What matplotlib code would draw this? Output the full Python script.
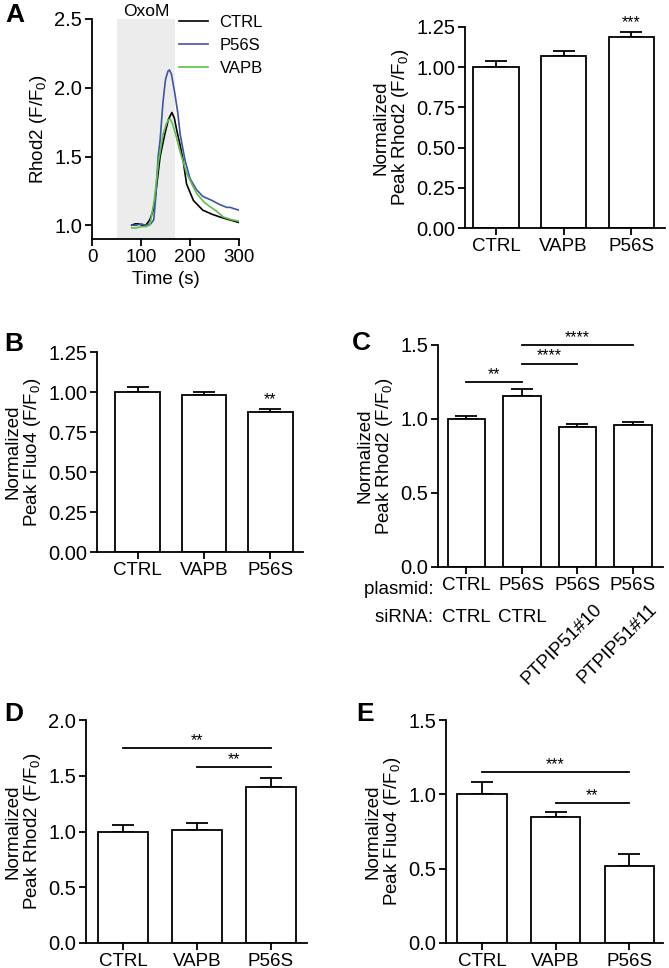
import matplotlib
matplotlib.use("Agg")
import matplotlib.pyplot as plt
import matplotlib.transforms as mtransforms

plt.rcParams['font.family'] = ['Liberation Sans', 'DejaVu Sans']
plt.rcParams['mathtext.default'] = 'regular'

W, H = 669, 968

# ---- panel A, time course (Rhod2) ----
t_ctrl = [81, 88, 95, 103, 110, 118, 125, 130, 139, 149, 156, 163, 168, 173, 180, 186, 193, 207, 226, 245, 261, 280, 300]
y_ctrl = [1.0, 1.01, 1.01, 1.0, 1.0, 1.04, 1.11, 1.23, 1.50, 1.67, 1.77, 1.82, 1.78, 1.69, 1.58, 1.47, 1.30, 1.18, 1.11, 1.08, 1.06, 1.04, 1.02]
t_p56s = [81, 90, 100, 110, 120, 126, 130, 135, 139, 145, 150, 155, 158, 162, 169, 175, 180, 190, 200, 213, 226, 245, 261, 275, 282, 290, 300]
y_p56s = [1.0, 1.0, 1.01, 1.0, 1.01, 1.04, 1.20, 1.50, 1.62, 1.90, 2.06, 2.12, 2.13, 2.10, 1.96, 1.82, 1.66, 1.47, 1.34, 1.26, 1.21, 1.18, 1.15, 1.13, 1.13, 1.12, 1.11]
t_vapb = [81, 90, 100, 110, 118, 127, 136, 145, 152, 157, 160, 164, 170, 181, 193, 205, 214, 228, 241, 255, 268, 285, 300]
y_vapb = [0.98, 0.98, 0.99, 0.99, 1.0, 1.18, 1.47, 1.66, 1.74, 1.77, 1.77, 1.74, 1.67, 1.52, 1.38, 1.29, 1.23, 1.17, 1.135, 1.10, 1.06, 1.04, 1.03]
oxom_start, oxom_end = 50, 170

groups3 = ['CTRL', 'VAPB', 'P56S']

# panel A bars
a_mean = [1.00, 1.07, 1.19]
a_err = [0.04, 0.03, 0.03]
# panel B
b_mean = [1.00, 0.98, 0.875]
b_err = [0.03, 0.02, 0.02]
# panel C
c_plasmid = ['CTRL', 'P56S', 'P56S', 'P56S']
c_sirna = ['CTRL', 'CTRL', 'PTPIP51#10', 'PTPIP51#11']
c_mean = [1.00, 1.155, 0.945, 0.96]
c_err = [0.02, 0.045, 0.02, 0.02]
# panel D
d_mean = [1.00, 1.015, 1.40]
d_err = [0.06, 0.06, 0.08]
# panel E
e_mean = [1.00, 0.845, 0.515]
e_err = [0.085, 0.035, 0.085]

LW = 1.3
FS = 13.5
TFS = 14.5


def px_axes(fig, left, top, right, bottom):
    return fig.add_axes([left / W, 1 - bottom / H, (right - left) / W, (bottom - top) / H])


def style(ax):
    for s in ['top', 'right']:
        ax.spines[s].set_visible(False)
    for s in ['left', 'bottom']:
        ax.spines[s].set_linewidth(LW)
    ax.tick_params(width=LW, length=5, labelsize=FS, direction='out', pad=2)
    ax.tick_params(axis='y', labelsize=TFS)


def bars(ax, mean, err, labels, xlim, ylim, yticks, fmt):
    x = list(range(len(mean)))
    ax.bar(x, mean, width=0.67, color='white', edgecolor='black', linewidth=LW, zorder=2)
    ax.errorbar(x, mean, yerr=[[0] * len(err), err], fmt='none', ecolor='black',
                elinewidth=LW, capsize=8, capthick=LW, zorder=1)
    ax.set_xlim(*xlim)
    ax.set_ylim(*ylim)
    ax.set_yticks(yticks)
    ax.set_yticklabels([fmt.format(v) for v in yticks])
    ax.set_xticks(x)
    ax.set_xticklabels(labels)
    style(ax)


def sig(ax, x1, x2, y, txt):
    ax.plot([x1, x2], [y, y], color='black', lw=LW, clip_on=False)
    ax.text((x1 + x2) / 2, y, txt, ha='center', va='bottom', fontsize=11.5, clip_on=False)


fig = plt.figure(figsize=(W / 100, H / 100), dpi=100)

# A - trace
ax = px_axes(fig, 92, 19, 239, 239)
ax.axvspan(oxom_start, oxom_end, color='#ececec', lw=0, zorder=0)
ax.plot(t_ctrl, y_ctrl, color='black', lw=1.2, label='CTRL')
ax.plot(t_p56s, y_p56s, color='#3f55a5', lw=1.2, label='P56S')
ax.plot(t_vapb, y_vapb, color='#5cc04a', lw=1.2, label='VAPB')
ax.set_xlim(0, 300)
ax.set_ylim(0.9, 2.5)
ax.set_xticks([0, 100, 200, 300])
ax.set_yticks([1.0, 1.5, 2.0, 2.5])
ax.set_yticklabels(['1.0', '1.5', '2.0', '2.5'])
ax.set_xlabel('Time (s)', fontsize=FS, labelpad=4)
ax.set_ylabel('Rhod2 (F/F$_0$)', fontsize=FS, labelpad=4)
ax.text((oxom_start + oxom_end) / 2, 2.5, 'OxoM', ha='center', va='bottom', fontsize=12.5)
leg = ax.legend(loc='upper left', bbox_to_anchor=(0.595, 1.02), frameon=False, fontsize=12,
                handlelength=1.7, handletextpad=0.7, labelspacing=0.5, borderaxespad=0,
                borderpad=0)
style(ax)
fig.text(5 / W, 1 - 22 / H, 'A', fontsize=19, fontweight='bold')

# A - bars
ax = px_axes(fig, 465, 27, 665, 228)
bars(ax, a_mean, a_err, groups3, (-0.46, 2.5), (0, 1.25), [0, 0.25, 0.5, 0.75, 1.0, 1.25], '{:.2f}')
ax.set_ylabel('Normalized\nPeak Rhod2 (F/F$_0$)', fontsize=FS, labelpad=4, linespacing=1.0)
ax.text(2, a_mean[2] + a_err[2] + 0.01, '***', ha='center', va='bottom', fontsize=11.5)

# B
ax = px_axes(fig, 97, 352, 303, 552)
bars(ax, b_mean, b_err, groups3, (-0.61, 2.49), (0, 1.25), [0, 0.25, 0.5, 0.75, 1.0, 1.25], '{:.2f}')
ax.set_ylabel('Normalized\nPeak Fluo4 (F/F$_0$)', fontsize=FS, labelpad=4, linespacing=1.0)
ax.text(2, b_mean[2] + b_err[2] + 0.01, '**', ha='center', va='bottom', fontsize=11.5)
fig.text(4 / W, 1 - 351 / H, 'B', fontsize=19, fontweight='bold')

# C
ax = px_axes(fig, 438, 345, 663, 567)
bars(ax, c_mean, c_err, c_plasmid, (-0.51, 3.54), (0, 1.5), [0, 0.5, 1.0, 1.5], '{:.1f}')
ax.set_ylabel('Normalized\nPeak Rhod2 (F/F$_0$)', fontsize=FS, labelpad=4, linespacing=1.0)
sig(ax, 0, 1, 1.25, '**')
sig(ax, 1, 2, 1.375, '****')
sig(ax, 1, 3, 1.5, '****')
tr = mtransforms.blended_transform_factory(ax.transData, ax.transAxes)
ax.text(-0.5, -0.1, 'plasmid: ', transform=tr, ha='right', va='center', fontsize=FS)
ax.text(-0.5, -0.228, 'siRNA: ', transform=tr, ha='right', va='center', fontsize=FS)
for i, lab in enumerate(c_sirna[:2]):
    ax.text(i, -0.228, lab, transform=tr, ha='center', va='center', fontsize=FS)
for i, lab in enumerate(c_sirna[2:]):
    ax.text(i + 2.5, -0.15, lab, transform=tr, ha='right', va='top', rotation=45, fontsize=FS)
fig.text(352 / W, 1 - 350 / H, 'C', fontsize=19, fontweight='bold')

# D
ax = px_axes(fig, 86, 720, 307, 943)
bars(ax, d_mean, d_err, groups3, (-0.5, 2.49), (0, 2.0), [0, 0.5, 1.0, 1.5, 2.0], '{:.1f}')
ax.set_ylabel('Normalized\nPeak Rhod2 (F/F$_0$)', fontsize=FS, labelpad=4, linespacing=1.0)
sig(ax, 0, 2, 1.745, '**')
sig(ax, 1, 2, 1.58, '**')
fig.text(4 / W, 1 - 721 / H, 'D', fontsize=19, fontweight='bold')

# E
ax = px_axes(fig, 446, 720, 663, 943)
bars(ax, e_mean, e_err, groups3, (-0.49, 2.46), (0, 1.5), [0, 0.5, 1.0, 1.5], '{:.1f}')
ax.set_ylabel('Normalized\nPeak Fluo4 (F/F$_0$)', fontsize=FS, labelpad=4, linespacing=1.0)
sig(ax, 0, 2, 1.152, '***')
sig(ax, 1, 2, 0.943, '**')
fig.text(356 / W, 1 - 721 / H, 'E', fontsize=19, fontweight='bold')

fig.savefig('out.png', dpi=100)
